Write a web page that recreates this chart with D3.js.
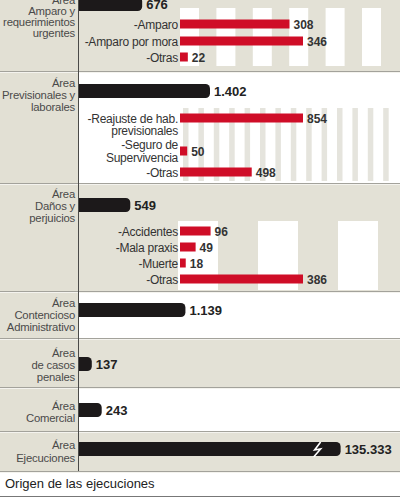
<!DOCTYPE html>
<html>
<head>
<meta charset="utf-8">
<script src="https://cdn.jsdelivr.net/npm/d3@7"></script>
<style>
  body { margin: 0; background: #fff; }
  svg { display: block; font-family: "Liberation Sans", Arial, sans-serif; }
</style>
</head>
<body>
<svg id="chart" width="400" height="500"></svg>
<script>
// Area labels (left column) and totals (black bars)
const areaLabels = [
  ["Área", "Amparo y", "requerimientos", "urgentes"],
  ["Área", "Previsionales y", "laborales"],
  ["Área", "Daños y", "perjuicios"],
  ["Área", "Contencioso", "Administrativo"],
  ["Área", "de casos", "penales"],
  ["Área", "Comercial"],
  ["Área", "Ejecuciones"]
];
const areaTotals = [676, 1402, 549, 1139, 137, 243, 135333];
const areaTotalLabels = ["676", "1.402", "549", "1.139", "137", "243", "135.333"];
// bars longer than this are drawn broken
const breakValue = 2800;

// Breakdown (red bars)
const amparoItems = [["-Amparo"], ["-Amparo por mora"], ["-Otras"]];
const amparoValues = [308, 346, 22];
const previsionalesItems = [["-Reajuste de hab.", "previsionales"], ["-Seguro de", "Supervivencia"], ["-Otras"]];
const previsionalesValues = [854, 50, 498];
const danosItems = [["-Accidentes"], ["-Mala praxis"], ["-Muerte"], ["-Otras"]];
const danosValues = [96, 49, 18, 386];

const caption = "Origen de las ejecuciones";

// layout
const W = 400, colX = 79, subX = 180;
const sectionTops = [-40, 72, 184, 292, 339, 388, 432, 472];
const sectionBg = ["#e3e1d6", "#ffffff", "#e3e1d6", "#ffffff", "#e3e1d6", "#ffffff", "#e3e1d6"];
const layout = [
  { barY: 4, labelY: 4, lineH: 11, rows: [24, 41, 57] },
  { barY: 91, labelY: 87, lineH: 12, rows: [118, 151, 172] },
  { barY: 205, labelY: 198, lineH: 12, rows: [231, 247, 263, 279] },
  { barY: 310, labelY: 307, lineH: 12 },
  { barY: 364, labelY: 357, lineH: 12 },
  { barY: 410, labelY: 410, lineH: 12 },
  { barY: 449, labelY: 449, lineH: 12.5 }
];
const subGroups = [
  { sec: 0, items: amparoItems, values: amparoValues },
  { sec: 1, items: previsionalesItems, values: previsionalesValues },
  { sec: 2, items: danosItems, values: danosValues }
];

const svg = d3.select("#chart");

// backgrounds
svg.append("rect").attr("width", W).attr("height", 500).attr("fill", "#fff");
sectionBg.forEach((c, i) => {
  svg.append("rect")
    .attr("x", colX).attr("y", sectionTops[i])
    .attr("width", W - colX).attr("height", sectionTops[i + 1] - sectionTops[i])
    .attr("fill", c);
});
svg.append("rect").attr("x", 0).attr("y", 0).attr("width", colX).attr("height", 472).attr("fill", "#e2e0d4");

// decorative stripes
const deco = svg.append("g");
d3.range(6).forEach(i => {
  deco.append("rect").attr("x", 180 + i * 36.4).attr("y", 8).attr("width", 19).attr("height", 58).attr("fill", "#fff");
});
d3.range(183, 396, 15.4).forEach(x => {
  deco.append("rect").attr("x", x).attr("y", 108).attr("width", 5.5).attr("height", 73).attr("fill", "#e5e4dd");
});
[178, 258, 338].forEach(x => {
  deco.append("rect").attr("x", x).attr("y", 221).attr("width", 40).attr("height", 69).attr("fill", "#fff");
});

// dividers
sectionTops.slice(1).forEach(y => {
  svg.append("line").attr("x1", 0).attr("x2", W).attr("y1", y - 0.5).attr("y2", y - 0.5)
    .attr("stroke", "#a3a29b").attr("stroke-width", 1);
  svg.append("line").attr("x1", 0).attr("x2", W).attr("y1", y + 0.5).attr("y2", y + 0.5)
    .attr("stroke", "#f4f3ee").attr("stroke-width", 1);
});
svg.append("line").attr("x1", colX - 0.5).attr("x2", colX - 0.5).attr("y1", 0).attr("y2", 471)
  .attr("stroke", "#4a4a48").attr("stroke-width", 1);
svg.append("line").attr("x1", 0).attr("x2", W).attr("y1", 496.5).attr("y2", 496.5)
  .attr("stroke", "#777").attr("stroke-width", 1);

// area labels
areaLabels.forEach((lines, i) => {
  const t = svg.append("text")
    .attr("text-anchor", "end")
    .attr("font-size", 11.3)
    .attr("fill", "#4a4a4a")
    .attr("letter-spacing", -0.2);
  lines.forEach((l, j) => {
    t.append("tspan").attr("x", 75).attr("y", layout[i].labelY + j * layout[i].lineH).text(l);
  });
});

// black bars
const x = d3.scaleLinear().domain([0, 1402]).range([0, 131]);
const barH = 14, r = 4.5;
function roundedBar(x0, x1, yc, h, rad) {
  const y0 = yc - h / 2, y1 = yc + h / 2;
  const p = d3.path();
  p.moveTo(x0, y0);
  p.lineTo(x1 - rad, y0);
  p.arcTo(x1, y0, x1, y0 + rad, rad);
  p.lineTo(x1, y1 - rad);
  p.arcTo(x1, y1, x1 - rad, y1, rad);
  p.lineTo(x0, y1);
  p.closePath();
  return p.toString();
}
areaTotals.forEach((v, i) => {
  const w = x(Math.min(v, breakValue));
  const yc = layout[i].barY;
  svg.append("path").attr("d", roundedBar(colX, colX + w, yc, barH, r)).attr("fill", "#1c191a");
  if (v > breakValue) {
    const bx = colX + w - 25;
    svg.append("path")
      .attr("d", `M${bx + 5},${yc - 7} L${bx - 1},${yc + 1} L${bx + 5},${yc} L${bx - 2},${yc + 8}`)
      .attr("fill", "none").attr("stroke", "#fff").attr("stroke-width", 1.6);
  }
  svg.append("text")
    .attr("x", colX + w + 4).attr("y", yc + 5)
    .attr("font-size", 13).attr("font-weight", "bold").attr("fill", "#222")
    .text(areaTotalLabels[i]);
});

// red breakdown bars, one scale per group
const fmt = d3.format(",");
subGroups.forEach(g => {
  const xs = d3.scaleLinear().domain([0, d3.max(g.values)]).range([0, 123]);
  const rows = layout[g.sec].rows;
  g.values.forEach((v, j) => {
    const yc = rows[j];
    const w = xs(v);
    svg.append("rect")
      .attr("x", subX).attr("y", yc - 4.5).attr("width", w).attr("height", 9)
      .attr("fill", "#cf0d27");
    svg.append("text")
      .attr("x", subX + w + 4).attr("y", yc + 4.5)
      .attr("font-size", 12).attr("font-weight", "bold").attr("fill", "#333")
      .text(fmt(v).replace(",", "."));
    const lines = g.items[j];
    const first = lines.length === 1 ? yc + 4.5 : (j === 0 ? yc + 4.5 : yc - 1.8);
    const t = svg.append("text")
      .attr("text-anchor", "end").attr("font-size", 12).attr("fill", "#333")
      .attr("letter-spacing", -0.25);
    lines.forEach((l, k) => {
      t.append("tspan").attr("x", 178).attr("y", first + k * 12.6).text(l);
    });
  });
});

// caption
svg.append("text")
  .attr("x", 5).attr("y", 488)
  .attr("font-size", 13).attr("fill", "#222")
  .text(caption);
</script>
</body>
</html>
